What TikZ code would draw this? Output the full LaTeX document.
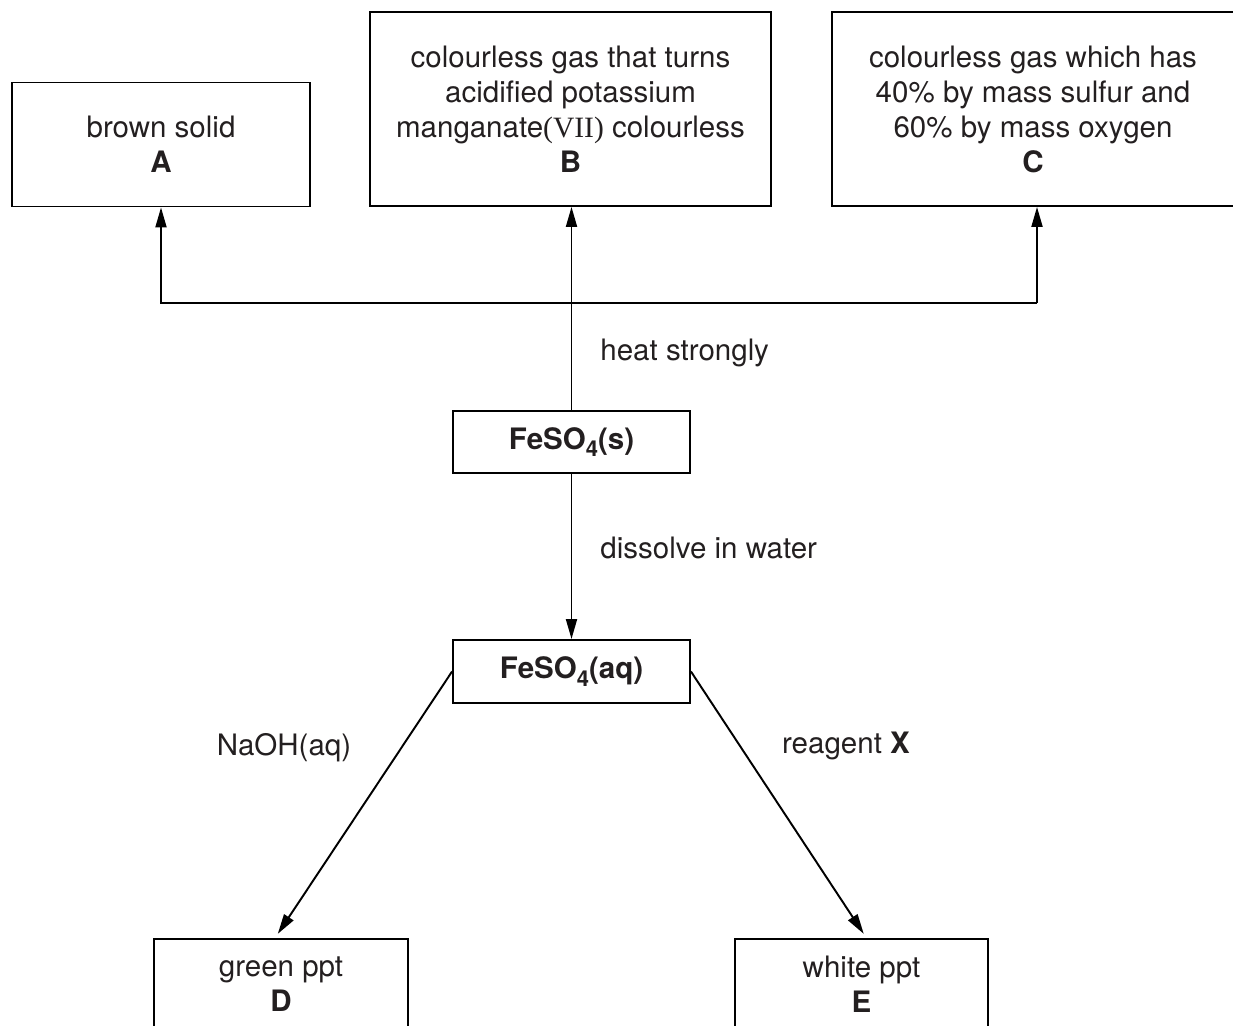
\documentclass[tikz,border=0pt]{standalone}
\usepackage{fontspec}
\setmainfont{TeX Gyre Heros}
\newfontfamily\romanfont{Liberation Serif}
\usetikzlibrary{arrows.meta}
\definecolor{ink}{HTML}{231F20}
\newcommand{\subfour}{\raisebox{-0.45ex}{\fontsize{12.5}{12.5}\selectfont 4}}

\begin{document}
\begin{tikzpicture}[x=0.02cm, y=-0.02cm,
    box/.style={draw, line width=1.1pt, align=center, inner sep=0pt, text=ink,
        font=\fontsize{16.8}{19.9}\selectfont},
    arrow/.style={line width=1.1pt, -{Triangle[length=0.4cm, width=0.22cm]}},
    lbl/.style={text=ink, inner sep=0pt, font=\fontsize{16.8}{19.9}\selectfont}]

    % === Page frame (boxes C, D, E run off the edge) ===
    \useasboundingbox (0,0) rectangle (1233,1026);
    \clip (0,0) rectangle (1233,1026);

    % === Products of heating ===
    \node[box, minimum width=5.96cm, minimum height=2.48cm] (A) at (161,144.5)
        {brown solid\\\textbf{A}};
    \node[box, minimum width=8.02cm, minimum height=3.88cm] (B) at (570.5,109)
        {colourless gas that turns\\acidified potassium\\manganate{\romanfont(VII)} colourless\\\textbf{B}};
    \node[box, minimum width=8.04cm, minimum height=3.88cm] (C) at (1033,109)
        {colourless gas which has\\40\% by mass sulfur and\\60\% by mass oxygen\\\textbf{C}};

    % === Iron(II) sulfate ===
    \node[box, minimum width=4.74cm, minimum height=1.24cm] (solid) at (571.5,442)
        {\textbf{FeSO\subfour(s)}};
    \node[box, minimum width=4.74cm, minimum height=1.26cm] (aq) at (571.5,671.5)
        {\textbf{FeSO\subfour(aq)}};

    % === Precipitates ===
    \node[box, minimum width=5.08cm, minimum height=1.8cm] (D) at (281,984)
        {green ppt\\\textbf{D}};
    \node[box, minimum width=5.06cm, minimum height=1.8cm] (E) at (861.5,984)
        {white ppt\\\textbf{E}};

    % === Heat strongly: one riser, split three ways ===
    \coordinate (toA) at (161,303);
    \coordinate (toC) at (1037,303);
    \draw[arrow] (solid.north) -- (solid.north |- B.south);
    \draw[arrow] (toC) -- (toA) -- (toA |- A.south);
    \draw[arrow] (toC) -- (toC |- C.south);
    \node[lbl, anchor=west] (heat) at (600,353) {heat strongly};

    % === Dissolve ===
    \draw[arrow] (solid) -- (aq);
    \node[lbl, anchor=west] (dissolve) at (600,548) {dissolve in water};

    % === Tests on the solution ===
    \draw[arrow, shorten >=0.1cm] (aq.west) -- ([xshift=-0.12cm]D.north);
    \draw[arrow, shorten >=0.1cm] (aq.east) -- ([xshift=0.1cm]E.north);
    \node[lbl] (naoh) at (284,748) {NaOH(aq)};
    \node[lbl] (reagent) at (846,746) {reagent \textbf{X}};

\end{tikzpicture}
\end{document}
